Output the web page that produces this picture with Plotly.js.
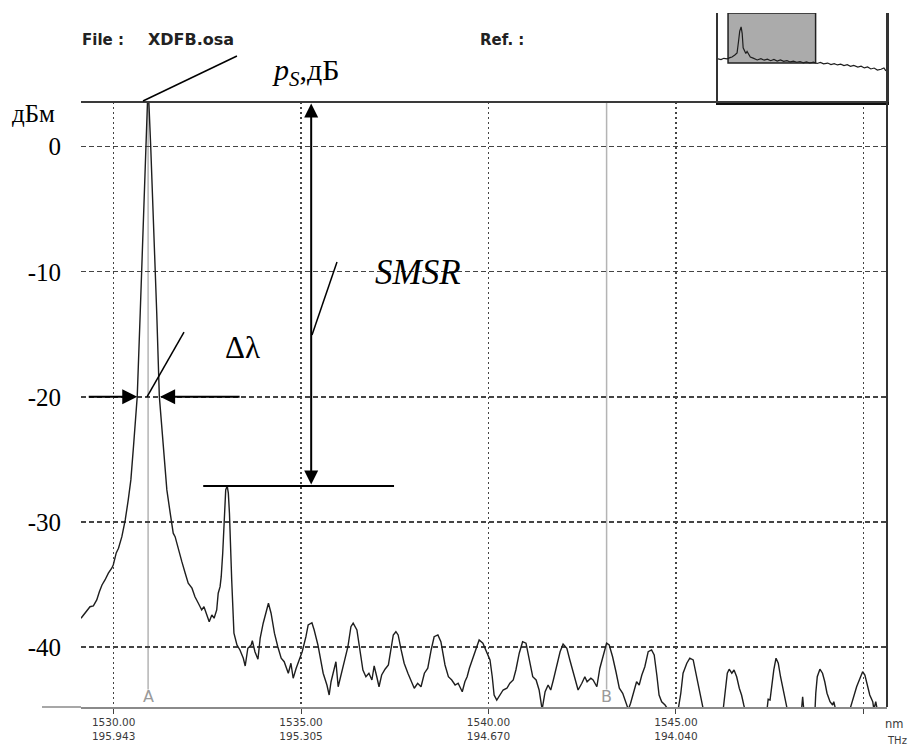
<!DOCTYPE html>
<html>
<head>
<meta charset="utf-8">
<script src="https://cdn.plot.ly/plotly-3.0.1.min.js"></script>
<style>html,body{margin:0;padding:0;background:#fff;}#chart{width:911px;height:746px;}</style>
</head>
<body>
<div id="chart"></div>
<script>
// ---- Spectrum data (wavelength, nm / power, dBm) ----
const wavelength = [
1529.13,1529.24,1529.37,1529.46,1529.55,1529.62,1529.69,1529.77,1529.86,1529.95,
1529.99,1530.07,1530.13,1530.22,1530.31,1530.39,1530.46,1530.53,1530.60,1530.63,
1530.71,1530.81,1530.87,1530.92,1530.99,1531.06,1531.15,1531.22,1531.29,1531.35,
1531.42,1531.51,1531.59,1531.64,1531.73,1531.82,1531.91,1531.99,1532.09,1532.17,
1532.26,1532.35,1532.41,1532.49,1532.55,1532.62,1532.68,1532.75,1532.79,1532.84,
1532.87,1532.91,1532.95,1532.99,1533.03,1533.06,1533.09,1533.13,1533.15,1533.18,
1533.21,1533.29,1533.37,1533.46,1533.51,1533.58,1533.67,1533.70,1533.77,1533.85,
1533.91,1533.99,1534.09,1534.13,1534.20,1534.29,1534.38,1534.47,1534.55,1534.66,
1534.73,1534.79,1534.87,1534.95,1535.03,1535.13,1535.19,1535.29,1535.35,1535.45,
1535.53,1535.59,1535.69,1535.75,1535.80,1535.86,1535.93,1535.99,1536.09,1536.15,
1536.25,1536.33,1536.39,1536.49,1536.57,1536.65,1536.73,1536.81,1536.89,1536.95,
1537.02,1537.08,1537.15,1537.24,1537.33,1537.40,1537.46,1537.53,1537.59,1537.67,
1537.75,1537.85,1537.93,1538.02,1538.11,1538.20,1538.29,1538.38,1538.47,1538.55,
1538.65,1538.73,1538.84,1538.93,1539.02,1539.11,1539.19,1539.30,1539.37,1539.43,
1539.49,1539.58,1539.67,1539.75,1539.85,1539.93,1540.04,1540.10,1540.15,1540.22,
1540.31,1540.39,1540.49,1540.57,1540.66,1540.73,1540.82,1540.91,1541.00,1541.09,
1541.18,1541.27,1541.35,1541.43,1541.51,1541.59,1541.66,1541.73,1541.82,1541.91,
1541.99,1542.09,1542.17,1542.28,1542.39,1542.49,1542.57,1542.63,1542.73,1542.79,
1542.89,1542.97,1543.06,1543.15,1543.22,1543.31,1543.40,1543.49,1543.58,1543.67,
1543.73,1543.79,1543.88,1543.95,1544.02,1544.09,1544.17,1544.26,1544.35,1544.42,
1544.49,1544.55,1544.62,1544.71,1544.79,1545.06,1545.13,1545.19,1545.29,1545.37,
1545.46,1545.53,1545.59,1545.67,1545.73,1546.26,1546.31,1546.37,1546.42,1546.49,
1546.55,1546.62,1546.69,1546.75,1546.81,1546.84,1547.43,1547.46,1547.51,1547.55,
1547.61,1547.67,1547.73,1547.79,1547.86,1547.93,1547.97,1548.35,1548.38,1548.41,
1548.71,1548.73,1548.77,1548.84,1548.91,1548.97,1549.03,1549.11,1549.18,1549.21,
1549.26,1549.64,1549.73,1549.82,1549.91,1549.98,1550.04,1550.10,1550.17,1550.25,
1550.28,1550.33,1550.37,1550.63
];
const power = [
-37.70,-37.30,-36.78,-36.72,-36.24,-35.58,-35.04,-34.64,-34.10,-33.70,
-33.44,-32.48,-32.10,-31.18,-29.84,-28.24,-26.64,-23.98,-21.28,-19.98,
-13.28,-5.28,0.00,5.00,0.00,-5.28,-13.28,-19.98,-22.64,-25.30,
-27.44,-29.30,-30.90,-31.18,-32.24,-33.18,-34.10,-34.90,-35.30,-35.98,
-36.50,-37.04,-36.78,-37.58,-37.98,-37.44,-37.70,-37.04,-35.70,-35.18,
-34.38,-32.50,-29.30,-27.44,-27.12,-27.70,-29.30,-31.98,-34.64,-36.78,
-38.90,-39.84,-40.24,-40.90,-41.52,-40.10,-39.84,-39.50,-40.38,-40.98,
-39.30,-38.10,-36.78,-36.50,-37.30,-38.90,-39.98,-40.90,-41.18,-42.10,
-41.30,-42.50,-41.70,-41.04,-40.38,-39.18,-38.24,-38.06,-38.64,-39.84,
-41.18,-42.10,-43.04,-43.84,-42.78,-42.10,-41.18,-43.18,-41.98,-41.04,
-39.98,-38.38,-38.10,-38.64,-40.10,-41.84,-42.38,-42.10,-42.64,-41.52,
-42.38,-43.18,-42.24,-41.78,-41.44,-40.24,-39.04,-38.78,-39.04,-40.24,
-41.30,-42.10,-42.64,-43.30,-42.90,-43.18,-42.10,-41.70,-40.24,-39.18,
-39.04,-39.58,-41.44,-42.38,-42.64,-43.04,-42.90,-43.58,-42.78,-42.38,
-41.70,-40.90,-39.98,-39.44,-39.70,-40.24,-41.04,-42.38,-43.84,-44.24,
-43.84,-43.44,-43.30,-42.90,-42.64,-41.84,-40.50,-39.58,-39.70,-41.04,
-42.38,-42.64,-43.44,-45.00,-43.58,-43.04,-43.44,-42.64,-41.58,-40.38,
-39.76,-40.10,-41.04,-42.24,-43.44,-42.90,-42.38,-42.78,-42.50,-42.64,
-43.18,-41.70,-40.64,-39.70,-39.84,-40.78,-41.98,-43.30,-43.70,-44.38,
-45.00,-44.50,-43.44,-42.78,-43.04,-42.24,-41.58,-40.38,-40.24,-40.64,
-42.24,-43.84,-44.38,-44.64,-45.00,-45.00,-43.70,-42.10,-41.30,-40.90,
-41.04,-42.10,-43.18,-44.24,-45.00,-45.00,-43.44,-42.10,-41.78,-42.10,
-41.84,-42.38,-43.30,-43.84,-44.64,-45.00,-45.00,-44.18,-44.24,-43.18,
-41.84,-40.90,-41.30,-42.38,-43.44,-44.50,-45.00,-45.00,-43.98,-45.00,
-45.00,-43.70,-42.38,-41.78,-42.10,-42.78,-43.70,-44.38,-44.64,-44.38,
-45.00,-45.00,-43.98,-43.18,-42.50,-41.98,-42.24,-42.90,-43.84,-44.38,
-45.00,-44.38,-45.00,-45.00
];

// ---- Overview (inset) trace: wide-span spectrum ----
const overviewWl = [1526.66,1527.4,1528.1,1528.9,1529.6,1530.1,1530.8,1531.35,1531.7,1532.0,
1532.34,1532.6,1532.84,1533.1,1533.5,1533.8,1534.2,1534.6,1535.3,1536.3,1537.2,1538.0,1538.8,
1539.6,1540.4,1541.2,1542.0,1542.8,1543.6,1544.4,1545.2,1546.0,1546.8,1547.6,1548.4,1549.2,
1550.1,1551.0,1551.8,1552.6,1553.6,1554.4,1555.2,1556.0,1556.8,1557.6,1558.4,1559.2,1560.0,
1561.0,1561.8,1562.6,1563.4,1564.2,1565.0,1565.8,1566.7,1567.4,1567.9];
const overviewDbm = [-40.8,-41.5,-40.2,-40.8,-39.5,-38.9,-37.0,-35.0,-24.0,-14.0,
-9.9,-16.0,-30.0,-33.0,-35.5,-33.5,-37.0,-38.9,-40.0,-41.8,-40.5,-42.0,-41.0,
-42.5,-41.3,-42.8,-41.8,-43.2,-42.4,-43.7,-42.9,-44.0,-43.3,-44.5,-43.6,-44.7,
-44.0,-45.2,-44.2,-45.6,-44.8,-46.2,-45.3,-46.6,-45.8,-47.2,-46.4,-48.0,-47.0,
-48.6,-47.8,-49.5,-48.6,-50.5,-49.6,-51.5,-50.8,-49.5,-52.4];

// ---- Axis ticks / labels ----
const wlTicks   = [1530, 1535, 1540, 1545, 1550];
const wlLabels  = ["1530.00", "1535.00", "1540.00", "1545.00", ""];
const thzLabels = ["195.943", "195.305", "194.670", "194.040", ""];
const dbTicks   = [0, -10, -20, -30, -40];
const dbLabels  = ["0", "-10", "-20", "-30", "-40"];

// ---- Cursors ----
const cursorNames = ["A", "B"];
const cursorWl    = [1530.92, 1543.15];

// ---- View ranges ----
const xMin = 1529.13, xMax = 1550.63;
const yMin = -44.8, yMax = 3.58;
const insetX = [1526.66, 1568.16];
const insetY = [-82.4, 3.6];

// derived: side-mode peak level
let sideMax = -Infinity;
wavelength.forEach((w, i) => { if (w > 1532.5 && power[i] > sideMax) sideMax = power[i]; });

const mainTop = 0.8718;
const serif = "Liberation Serif, Times New Roman, serif";
const sans = "DejaVu Sans, Verdana, sans-serif";

const traces = [
  {x: wavelength, y: power, type: "scatter", mode: "lines",
   line: {color: "#1e1e1e", width: 1.4}, hoverinfo: "skip", xaxis: "x", yaxis: "y"},
  {x: overviewWl, y: overviewDbm, type: "scatter", mode: "lines",
   line: {color: "#1e1e1e", width: 1.2}, hoverinfo: "skip", xaxis: "x2", yaxis: "y2"}
];

const tickText = wlLabels.map((l, i) => l ? l + "<br>" + thzLabels[i] : "");

const shapes = [
  {type: "rect", xref: "x2", yref: "y2", x0: xMin, x1: xMax, y0: yMin, y1: yMax,
   fillcolor: "#ababab", line: {color: "#222", width: 1.5}, layer: "below"},
  {type: "line", xref: "paper", yref: "paper", x0: 0, x1: 1, y0: mainTop, y1: mainTop,
   line: {color: "#3a3a3a", width: 2}},
  {type: "line", xref: "paper", yref: "paper", x0: 1, x1: 1, y0: 0, y1: 1,
   line: {color: "#333", width: 2}},
  {type: "line", xref: "paper", yref: "paper", x0: -0.0484, x1: 0, y0: 0, y1: 0,
   line: {color: "#8a8a8a", width: 1.5}},
  {type: "line", xref: "paper", yref: "paper", x0: 0.0769, y0: 0.8732, x1: 0.1935, y1: 0.9380,
   line: {color: "#000", width: 1.5}},
  {type: "line", xref: "paper", yref: "paper", x0: 0.0819, y0: 0.4467, x1: 0.1278, y1: 0.5403,
   line: {color: "#000", width: 1.5}},
  {type: "line", xref: "paper", yref: "paper", x0: 0.2866, y0: 0.5360, x1: 0.3176, y1: 0.6412,
   line: {color: "#000", width: 1.5}},
  {type: "line", xref: "x", yref: "y", x0: 1532.39, x1: 1537.48, y0: sideMax, y1: sideMax,
   line: {color: "#000", width: 2}}
];
cursorWl.forEach(w => shapes.push({type: "line", xref: "x", yref: "y", x0: w, x1: w, y0: -43.4, y1: yMax,
  line: {color: "#b4b4b4", width: 1.5}, layer: "below"}));

const annotations = [
  {text: "<b>File :</b>", xref: "paper", yref: "paper", x: -0.001, y: 0.9611, xanchor: "left", yanchor: "middle",
   showarrow: false, font: {family: sans, size: 15, color: "#222"}},
  {text: "<b>XDFB.osa</b>", xref: "paper", yref: "paper", x: 0.0806, y: 0.9611, xanchor: "left", yanchor: "middle",
   showarrow: false, font: {family: sans, size: 16, color: "#222"}},
  {text: "<b>Ref. :</b>", xref: "paper", yref: "paper", x: 0.4926, y: 0.9611, xanchor: "left", yanchor: "middle",
   showarrow: false, font: {family: sans, size: 15, color: "#222"}},
  {text: "<i>p</i><sub><i>S</i></sub>,дБ", xref: "paper", yref: "paper", x: 0.2345, y: 0.9150, xanchor: "left", yanchor: "middle",
   showarrow: false, font: {family: serif, size: 30, color: "#000"}},
  {text: "дБм", xref: "paper", yref: "paper", x: -0.0881, y: 0.8559, xanchor: "left", yanchor: "middle",
   showarrow: false, font: {family: serif, size: 25, color: "#000"}},
  {text: "Δλ", xref: "paper", yref: "paper", x: 0.1998, y: 0.5187, xanchor: "center", yanchor: "middle",
   showarrow: false, font: {family: serif, size: 31, color: "#000"}},
  {text: "<i>SMSR</i>", xref: "paper", yref: "paper", x: 0.4181, y: 0.6268, xanchor: "center", yanchor: "middle",
   showarrow: false, font: {family: serif, size: 35, color: "#000"}},
  {text: "nm", xref: "paper", yref: "paper", x: 1.0236, y: -0.0245, xanchor: "right", yanchor: "middle",
   showarrow: false, font: {family: sans, size: 11.5, color: "#3a3a3a"}},
  {text: "THz", xref: "paper", yref: "paper", x: 1.0270, y: -0.0476, xanchor: "right", yanchor: "middle",
   showarrow: false, font: {family: sans, size: 10, color: "#3a3a3a"}},
  {text: "", xref: "x", yref: "y", x: 1530.63, y: -20, ax: -50, ay: 0, showarrow: true,
   arrowhead: 2, arrowsize: 1.5, arrowwidth: 2, arrowcolor: "#000"},
  {text: "", xref: "x", yref: "y", x: 1531.24, y: -20, ax: 81, ay: 0, showarrow: true,
   arrowhead: 2, arrowsize: 1.5, arrowwidth: 2, arrowcolor: "#000"},
  {text: "", xref: "x", yref: "y", x: 1535.27, y: 3.45, axref: "x", ayref: "y", ax: 1535.27, ay: sideMax,
   showarrow: true, arrowhead: 2, startarrowhead: 2, arrowside: "end+start", arrowsize: 1.4, startarrowsize: 1.4,
   arrowwidth: 2, arrowcolor: "#000"}
];
cursorNames.forEach((n, i) => annotations.push({text: n, xref: "x", yref: "y", x: cursorWl[i], y: -44.0,
  xanchor: "center", yanchor: "middle", showarrow: false, font: {family: sans, size: 16, color: "#9a9a9a"}}));

const layout = {
  width: 911, height: 746,
  margin: {l: 81, r: 24, t: 13, b: 39, pad: 0},
  paper_bgcolor: "#fff", plot_bgcolor: "#fff",
  showlegend: false,
  xaxis: {domain: [0, 1], anchor: "y", range: [xMin, xMax], tickmode: "array", tickvals: wlTicks, ticktext: tickText,
    showgrid: true, gridcolor: "#444", griddash: "2px,3px", gridwidth: 1.6, zeroline: false,
    showline: true, linecolor: "#8a8a8a", linewidth: 1.5, ticks: "outside", ticklen: 5, tickcolor: "#444",
    tickfont: {family: sans, size: 10.5, color: "#3a3a3a"}, fixedrange: true},
  yaxis: {domain: [0, mainTop], anchor: "x", range: [yMin, yMax], tickmode: "array", tickvals: dbTicks, ticktext: dbLabels,
    showgrid: true, gridcolor: "#444", griddash: "5px,3px", gridwidth: 1.3, zeroline: false, showline: false,
    ticks: "outside", ticklen: 14, tickcolor: "rgba(0,0,0,0)",
    tickfont: {family: serif, size: 25, color: "#000"}, fixedrange: true},
  xaxis2: {domain: [0.7903, 1], anchor: "y2", range: insetX, showticklabels: false, showgrid: false,
    zeroline: false, showline: true, linecolor: "#111", linewidth: 3, ticks: "", fixedrange: true},
  yaxis2: {domain: [mainTop, 1], anchor: "x2", range: insetY, showticklabels: false, showgrid: false,
    zeroline: false, showline: true, mirror: true, linecolor: "#333", linewidth: 1.5, ticks: "", fixedrange: true},
  shapes: shapes,
  annotations: annotations
};

Plotly.newPlot("chart", traces, layout, {displayModeBar: false, staticPlot: true});
</script>
</body>
</html>
